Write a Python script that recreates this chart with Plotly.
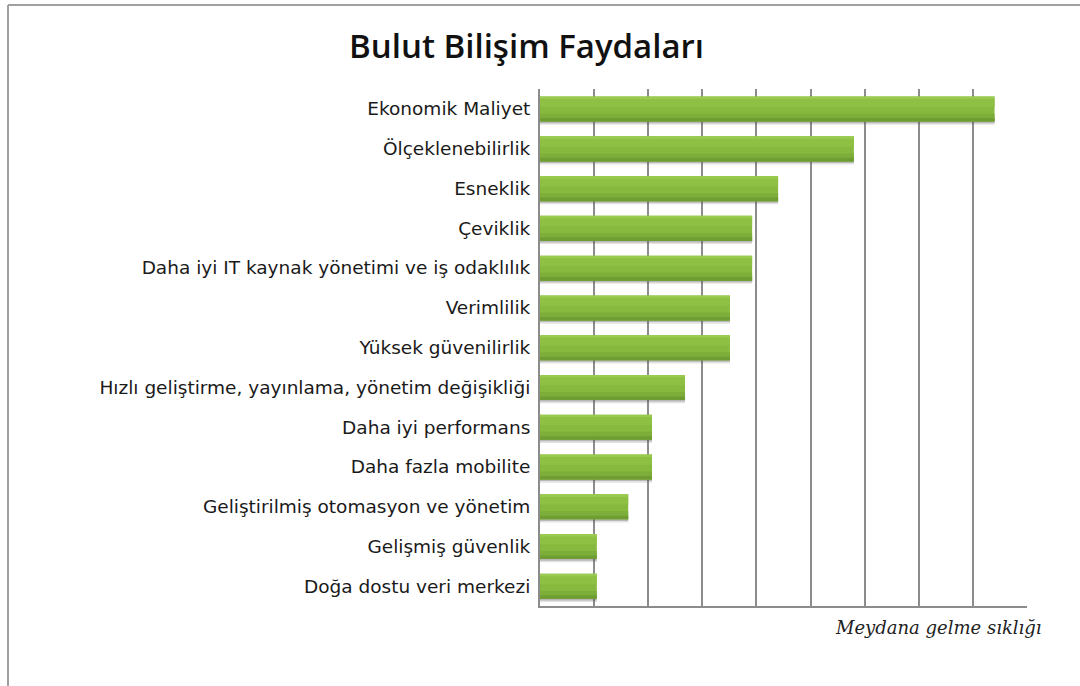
import plotly.graph_objects as go

categories = [
    "Ekonomik Maliyet",
    "Ölçeklenebilirlik",
    "Esneklik",
    "Çeviklik",
    "Daha iyi IT kaynak yönetimi ve iş odaklılık",
    "Verimlilik",
    "Yüksek güvenilirlik",
    "Hızlı geliştirme, yayınlama, yönetim değişikliği",
    "Daha iyi performans",
    "Daha fazla mobilite",
    "Geliştirilmiş otomasyon ve yönetim",
    "Gelişmiş güvenlik",
    "Doğa dostu veri merkezi",
]
values = [8.4, 5.8, 4.4, 3.92, 3.92, 3.51, 3.51, 2.68, 2.07, 2.07, 1.63, 1.05, 1.05]

title_text = "Bulut Bilişim Faydaları"
x_title = "Meydana gelme sıklığı"

W, H = 1080, 686
L, R, T, B = 540, 53, 89, 80
pw, ph = W - L - R, H - T - B

# (offset, width, colour) bands that build a soft vertical gradient + shadow
bands = [
    (-0.40, 0.10, "rgba(90,90,90,0.18)"),
    (-0.36, 0.08, "rgba(90,90,90,0.30)"),
    (-0.32, 0.63, "#86B93D"),
    (-0.32, 0.20, "#7DAE39"),
    (-0.32, 0.09, "#6F9C33"),
    (0.05, 0.22, "#8EC143"),
    (0.25, 0.06, "#9ACB50"),
]

fig = go.Figure()
for i, (off, wd, col) in enumerate(bands):
    fig.add_trace(go.Bar(
        x=values, y=categories, orientation="h",
        marker=dict(color=col, line=dict(width=0)),
        width=wd, offset=off,
        hoverinfo="x+y" if i == 2 else "skip",
    ))

def px_x(x):
    return (x - L) / pw

def px_y(y):
    return 1 - (y - T) / ph

fig.update_layout(
    width=W, height=H,
    margin=dict(l=L, r=R, t=T, b=B),
    paper_bgcolor="white", plot_bgcolor="white",
    showlegend=False,
    barmode="overlay",
    xaxis=dict(
        range=[0, 9], dtick=1, showticklabels=False,
        showgrid=True, gridcolor="#8C8C8C", gridwidth=1.5,
        showline=True, linecolor="#8C8C8C", linewidth=2,
        zeroline=False, fixedrange=True,
    ),
    yaxis=dict(
        categoryorder="array", categoryarray=categories[::-1],
        range=[-0.5, 12.5],
        showgrid=False, showline=True, linecolor="#8C8C8C", linewidth=2,
        ticks="", ticklabelstandoff=4,
        tickfont=dict(family="DejaVu Sans", size=18.5, color="#1a1a1a"),
        fixedrange=True,
    ),
    shapes=[
        dict(type="line", xref="paper", yref="paper",
             x0=px_x(8), x1=px_x(1090), y0=px_y(5), y1=px_y(5),
             line=dict(color="#A0A0A0", width=2)),
        dict(type="line", xref="paper", yref="paper",
             x0=px_x(8), x1=px_x(8), y0=px_y(5), y1=px_y(700),
             line=dict(color="#A0A0A0", width=2)),
    ],
    annotations=[
        dict(text=title_text, xref="paper", yref="paper",
             x=px_x(526), y=px_y(45), xanchor="center", yanchor="middle",
             showarrow=False,
             font=dict(family="Open Sans", size=33, color="#111111", weight=600)),
        dict(text="<i>" + x_title + "</i>", xref="paper", yref="paper",
             x=px_x(1044), y=px_y(627), xanchor="right", yanchor="middle",
             showarrow=False,
             font=dict(family="DejaVu Serif", size=18, color="#222222")),
    ],
)

fig.write_html("out.html", config={"displayModeBar": False})

with open("out.html", "r", encoding="utf-8") as f:
    html = f.read()
html = html.replace("<body>", '<body style="margin:0;overflow:hidden">', 1)
with open("out.html", "w", encoding="utf-8") as f:
    f.write(html)
